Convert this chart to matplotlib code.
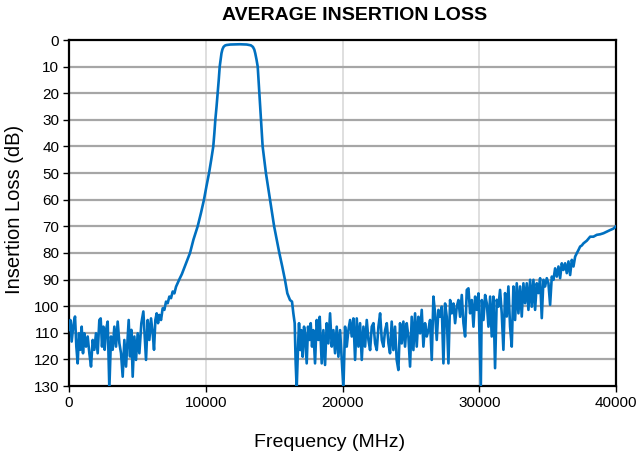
import matplotlib
matplotlib.use('Agg')
import matplotlib.pyplot as plt
import numpy as np

plt.rcParams['font.family'] = ['Liberation Sans', 'DejaVu Sans']

# frequency (MHz) and insertion loss (dB)
freq_low = [0, 100, 195, 317, 440, 537, 634, 732, 830, 927, 1024, 1122, 1244, 1366, 1488,
            1610, 1731, 1853, 1975, 2097, 2219, 2317, 2414, 2512, 2609, 2707, 2829, 2950,
            3072, 3194, 3316, 3438, 3560, 3682, 3804, 3926, 4048, 4170, 4291, 4365, 4462,
            4560, 4657, 4779, 4901, 5023, 5145, 5291, 5437, 5535, 5632, 5754, 5876, 5998,
            6120, 6217, 6315, 6412, 6510, 6607, 6729, 6851, 6973, 7095, 7217, 7339, 7461,
            7583, 7705, 7827]
loss_low = [108.9, 105.2, 113.3, 107.1, 103.9, 115.2, 121.5, 110.2, 116.4, 107.7, 117.7,
            110.2, 115.2, 111.4, 117.7, 122.7, 112.7, 116.4, 110.2, 117.7, 105.2, 104.6,
            115.2, 107.7, 116.4, 108.9, 105.8, 131.0, 111.4, 116.4, 107.7, 115.2, 105.8,
            113.9, 117.7, 126.5, 112.7, 122.7, 111.4, 105.2, 118.9, 108.9, 126.5, 111.4,
            120.2, 110.2, 117.7, 106.4, 102.0, 111.4, 120.2, 105.2, 112.7, 104.6, 110.2,
            116.4, 105.2, 102.7, 106.4, 103.3, 105.2, 100.8, 101.4, 98.3, 98.9, 96.4, 97.0,
            94.5, 95.2, 92.7]

freq_pass = [8070, 8250, 8400, 8620, 8850, 9100, 9410, 9650, 9870, 10050, 10240, 10400,
             10550, 10630, 10700, 10790, 10870, 10950, 11020, 11090, 11150, 11220, 11300,
             11400, 11500, 11800, 12500, 13000, 13300, 13450, 13550, 13620, 13710, 13800,
             13860, 13920, 13980, 14040, 14100, 14160, 14280, 14400, 14550, 14700, 14850,
             15000, 15190, 15380, 15590, 15796]
loss_pass = [89.9, 88.0, 86.0, 83.0, 80.0, 75.0, 70.0, 65.0, 60.0, 55.0, 50.0, 45.0,
             40.0, 35.0, 30.0, 25.0, 20.0, 15.0, 10.0, 7.2, 5.0, 3.5, 2.6,
             2.1, 1.9, 1.7, 1.6, 1.7, 2.0, 2.6, 3.6, 5.0, 7.3, 10.0,
             15.0, 20.0, 25.0, 30.0, 35.0, 40.0, 45.0, 50.0, 55.0, 60.0, 65.0,
             70.0, 75.0, 80.0, 85.0, 90.2]

freq_mid = [15967, 16162, 16308, 16406, 16504, 16577, 16650, 16748, 16821, 16918, 16992,
            17089, 17187, 17260, 17382, 17480, 17577, 17675, 17772, 17870, 17992, 18114,
            18236, 18334, 18480, 18602, 18724, 18846, 18968, 19090, 19212, 19334, 19456,
            19578, 19700, 19822, 19944, 20066, 20188, 20310, 20432, 20554, 20676, 20798,
            20920, 21042, 21164, 21286, 21408, 21530, 21652, 21774, 21896, 22018, 22140,
            22262, 22384, 22506, 22628, 22750, 22872, 22994, 23116, 23238, 23360]
loss_mid = [95.2, 97.7, 98.3, 102.7, 106.4, 121.5, 131.0, 115.2, 106.4, 116.5, 109.0,
            119.0, 107.7, 110.2, 121.5, 107.7, 112.7, 106.4, 115.2, 109.0, 121.5, 105.2,
            112.7, 104.0, 121.5, 109.0, 122.1, 106.4, 114.0, 102.7, 115.2, 109.0, 117.7,
            107.7, 119.0, 109.0, 120.2, 131.0, 107.7, 115.2, 109.0, 105.2, 111.4, 104.6,
            120.2, 104.6, 115.2, 106.4, 120.2, 107.7, 115.2, 105.2, 112.7, 116.5, 107.7,
            106.4, 114.0, 116.5, 107.7, 102.7, 112.7, 115.2, 109.0, 106.4, 114.0]

freq_high = [23476, 23598, 23720, 23842, 23964, 24086, 24208, 24330, 24452, 24574, 24696,
             24818, 24940, 25062, 25184, 25306, 25428, 25550, 25672, 25794, 25916, 26038,
             26160, 26282, 26404, 26526, 26648, 26770, 26892, 27014, 27136, 27258, 27380,
             27502, 27624, 27746, 27868, 27990, 28112, 28234, 28356, 28478, 28600, 28722,
             28844, 28966, 29088, 29210, 29332, 29454, 29576, 29698, 29820, 29942, 30113,
             30186, 30308, 30430, 30552, 30674, 30796]
loss_high = [117.7, 105.8, 116.5, 107.7, 120.2, 124.0, 106.4, 114.0, 105.8, 115.2, 106.4,
             111.4, 122.7, 104.0, 116.5, 102.7, 115.2, 104.0, 110.2, 101.4, 115.2, 106.4,
             111.4, 109.0, 105.2, 120.2, 96.4, 102.7, 112.7, 101.4, 104.0, 100.2, 121.5,
             99.0, 104.0, 121.5, 97.7, 102.7, 99.0, 106.4, 100.2, 97.7, 104.0, 95.8,
             106.4, 111.4, 93.9, 93.3, 102.7, 97.7, 107.7, 96.4, 101.4, 95.2, 131.0,
             97.7, 105.2, 95.8, 99.0, 107.7, 96.4]

freq_top = [30912, 31034, 31156, 31278, 31400, 31522, 31644, 31766, 31888, 32010, 32132,
            32254, 32376, 32498, 32620, 32742, 32864, 32986, 33108, 33230, 33352, 33474,
            33596, 33718, 33840, 33962, 34084, 34206, 34328, 34450, 34572, 34694, 34816,
            34938, 35060, 35182, 35304, 35426, 35548, 35670, 35792, 35914, 36036, 36158,
            36280, 36402, 36524, 36646, 36768, 36890, 37012, 37134, 37256, 37378, 37500,
            37622, 37744, 37866, 38110, 38350, 38598, 38840, 39086, 39330, 39574, 39800,
            40000]
loss_top = [111.4, 96.4, 123.3, 97.6, 100.2, 93.9, 102.7, 116.4, 95.1, 103.9, 92.6,
            107.7, 115.2, 92.6, 105.2, 91.4, 102.7, 92.6, 103.9, 91.4, 98.9, 91.4,
            101.4, 90.1, 100.2, 90.1, 101.4, 91.4, 95.1, 89.5, 104.5, 90.1, 92.6,
            89.5, 91.4, 99.5, 88.9, 90.1, 85.8, 88.9, 85.1, 89.5, 83.9, 86.4,
            83.9, 87.6, 83.2, 88.3, 82.6, 85.1, 81.4, 80.1, 78.9, 77.6, 77.2,
            76.4, 75.9, 75.4, 73.9, 73.9, 73.2, 73.0, 72.6, 72.0, 71.4, 70.9,
            70.0]

freq = np.array(freq_low + freq_pass + freq_mid + freq_high + freq_top)
loss = np.array(loss_low + loss_pass + loss_mid + loss_high + loss_top)

y_ticks = list(range(0, 140, 10))
x_ticks = [0, 10000, 20000, 30000, 40000]

fig = plt.figure(figsize=(6.42, 4.51), dpi=100)
ax = fig.add_axes([69/642, 1 - 386/451, 547/642, 346/451])

ax.plot(freq, loss, color='#0070C0', lw=1.9, zorder=3)

ax.set_xlim(0, 40000)
ax.set_ylim(130, 0)
ax.set_xticks(x_ticks)
ax.set_yticks(y_ticks)

for v in y_ticks[1:-1]:
    ax.axhline(v, color='#A6A6A6', lw=1.6, zorder=1)
for v in x_ticks[1:-1]:
    ax.axvline(v, color='#D9D9D9', lw=1.2, zorder=0)

for s in ax.spines.values():
    s.set_color('black')
    s.set_linewidth(1.6)

ax.tick_params(axis='both', direction='out', length=4, width=1, labelsize=11,
               colors='black', pad=3)

fig.text(15/642, 1 - 209/451, 'Insertion Loss (dB)', rotation=90, ha='center',
         va='center', fontsize=14.5)
fig.text(330/642, 1 - 434/451, 'Frequency (MHz)', ha='center', va='top', fontsize=14)
fig.text(355/642, 1 - 15/451, 'AVERAGE INSERTION LOSS', ha='center', va='center',
         fontsize=14, fontweight='bold')

fig.savefig('out.png', dpi=100)
